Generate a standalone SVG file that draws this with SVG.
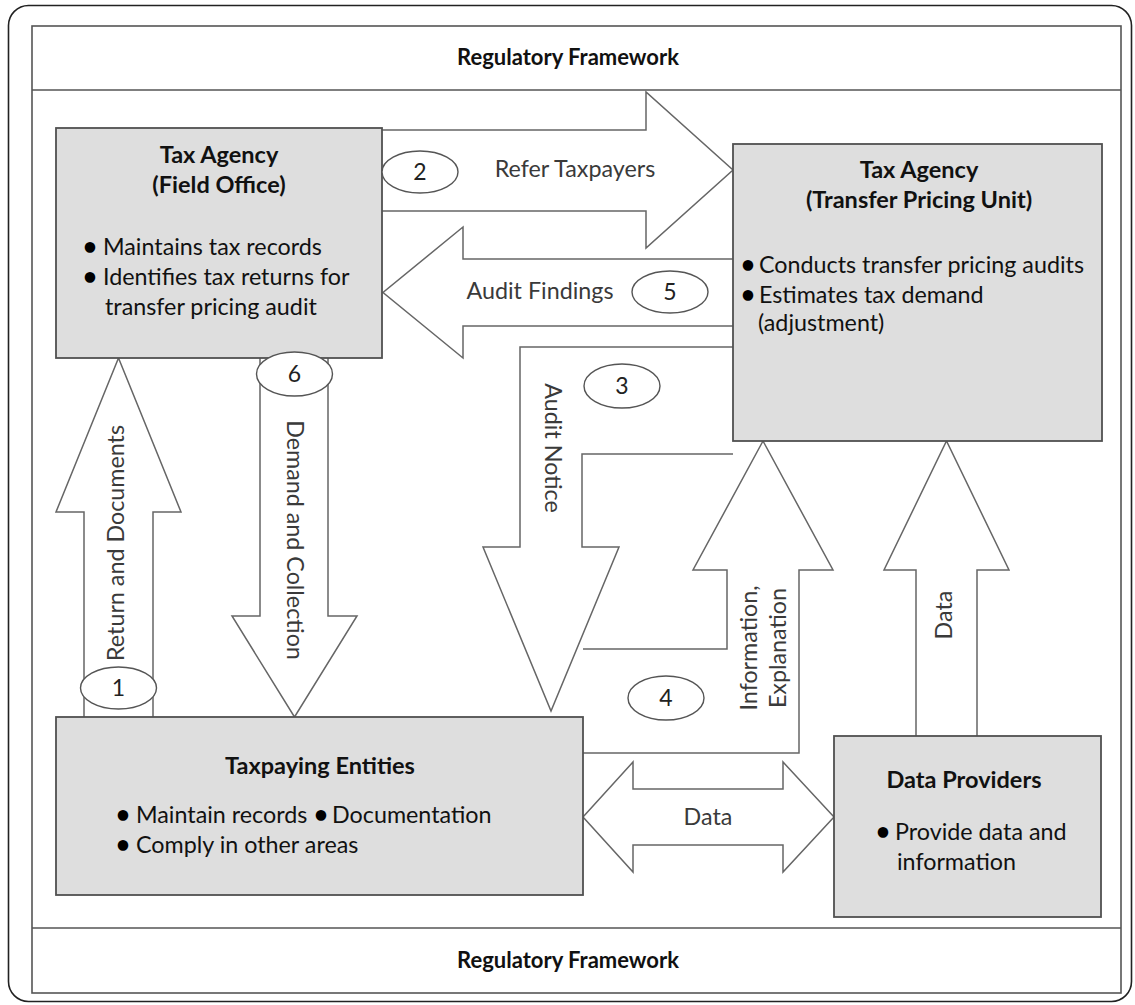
<svg xmlns="http://www.w3.org/2000/svg" width="1135" height="1005" viewBox="0 0 1135 1005">
  <style>
    .frame { fill: none; stroke: #222; stroke-width: 1.6; }
    .band { fill: #fff; stroke: #555; stroke-width: 1.6; }
    .box { fill: #dedede; stroke: #505050; stroke-width: 1.8; }
    .arrow { fill: #fff; stroke: #666; stroke-width: 1.5; stroke-linejoin: miter; }
    .badge { fill: #fff; stroke: #555; stroke-width: 1.4; }
    text { font-family: Lato, "Open Sans", "Liberation Sans", sans-serif; }
    .frame-title { font-size: 22px; font-weight: bold; fill: #111; text-anchor: middle; }
    .title { font-size: 23.5px; font-weight: bold; fill: #111; text-anchor: middle; }
    .body { font-size: 23.3px; fill: #111; }
    .dot { font-size: 24px; font-weight: bold; fill: #000; text-anchor: middle; }
    .flow { font-size: 23.3px; fill: #3a3a3a; text-anchor: middle; }
    .num { font-size: 23px; fill: #222; text-anchor: middle; }
  </style>

  <!-- outer frame -->
  <rect class="frame" x="8.5" y="5.5" width="1123" height="996" rx="20"/>

  <!-- regulatory framework enclosure -->
  <g id="regulatory-framework">
    <rect class="band" x="32" y="26" width="1089" height="967"/>
    <line class="band" x1="32" y1="90" x2="1121" y2="90"/>
    <line class="band" x1="32" y1="928" x2="1121" y2="928"/>
    <text class="frame-title" x="568" y="65">Regulatory Framework</text>
    <text class="frame-title" x="568" y="968">Regulatory Framework</text>
  </g>

  <!-- block arrows between the parties -->
  <g id="connectors">
    <!-- 1: return and documents -->
    <path class="arrow" d="M84,717 L84,512 L56,512 L118.5,358 L181,512 L153,512 L153,717"/>
    <text class="flow" transform="translate(124,543) rotate(-90)">Return and Documents</text>
    <!-- 6: demand and collection -->
    <path class="arrow" d="M260,358 L260,616 L232,616 L294.5,717 L357,616 L328,616 L328,358"/>
    <text class="flow" transform="translate(287,540) rotate(90)">Demand and Collection</text>
    <!-- 2: refer taxpayers -->
    <path class="arrow" d="M382,130 L646,130 L646,92 L733,170 L646,248 L646,211 L382,211"/>
    <text class="flow" x="575" y="177">Refer Taxpayers</text>
    <!-- 5: audit findings -->
    <path class="arrow" d="M733,259 L463,259 L463,227 L383,292.5 L463,358 L463,326 L733,326"/>
    <text class="flow" x="540" y="299">Audit Findings</text>
    <!-- 3: audit notice -->
    <path class="arrow" d="M733,347 L520,347 L520,547 L483,547 L551,711 L619,547 L582,547 L582,454 L733,454"/>
    <text class="flow" transform="translate(545,448) rotate(90)">Audit Notice</text>
    <!-- 4: information, explanation -->
    <path class="arrow" d="M583,649 L727,649 L727,570 L693,570 L763,441 L833,570 L799,570 L799,753 L583,753"/>
    <text class="flow" transform="translate(757,648) rotate(-90)">Information,</text>
    <text class="flow" transform="translate(786,648) rotate(-90)">Explanation</text>
    <!-- data to the transfer pricing unit -->
    <path class="arrow" d="M916,736 L916,570 L884,570 L946.5,441 L1009,570 L977,570 L977,736"/>
    <text class="flow" transform="translate(952,615) rotate(-90)">Data</text>
    <!-- data exchange -->
    <path class="arrow" d="M583,817 L633,762 L633,789 L783,789 L783,762 L834,817 L783,872 L783,845 L633,845 L633,872 Z"/>
    <text class="flow" x="708" y="825">Data</text>
  </g>

  <g id="field-office">
    <rect class="box" x="56" y="128" width="326" height="230"/>
    <text class="title" x="219" y="163">Tax Agency</text>
    <text class="title" x="219" y="193">(Field Office)</text>
    <text class="body" y="255"><tspan class="dot" x="90">•</tspan><tspan x="103">Maintains tax records</tspan></text>
    <text class="body" y="285"><tspan class="dot" x="90">•</tspan><tspan x="103">Identifies tax returns for</tspan></text>
    <text class="body" x="105" y="315">transfer pricing audit</text>
  </g>

  <g id="transfer-pricing-unit">
    <rect class="box" x="733" y="144" width="369" height="297"/>
    <text class="title" x="919" y="178">Tax Agency</text>
    <text class="title" x="919" y="208">(Transfer Pricing Unit)</text>
    <text class="body" y="273"><tspan class="dot" x="748">•</tspan><tspan x="759">Conducts transfer pricing audits</tspan></text>
    <text class="body" y="303"><tspan class="dot" x="748">•</tspan><tspan x="759">Estimates tax demand</tspan></text>
    <text class="body" x="758" y="331">(adjustment)</text>
  </g>

  <g id="taxpaying-entities">
    <rect class="box" x="56" y="717" width="527" height="178"/>
    <text class="title" x="320" y="774">Taxpaying Entities</text>
    <text class="body" y="823"><tspan class="dot" x="123">•</tspan><tspan x="136">Maintain records</tspan><tspan class="dot" x="321">•</tspan><tspan x="332">Documentation</tspan></text>
    <text class="body" y="853"><tspan class="dot" x="123">•</tspan><tspan x="136">Comply in other areas</tspan></text>
  </g>

  <g id="data-providers">
    <rect class="box" x="834" y="736" width="267" height="181"/>
    <text class="title" x="964" y="788">Data Providers</text>
    <text class="body" y="840"><tspan class="dot" x="883">•</tspan><tspan x="895">Provide data and</tspan></text>
    <text class="body" x="897" y="870">information</text>
  </g>

  <!-- step numbers -->
  <g id="step-badges">
    <ellipse class="badge" cx="118.5" cy="688" rx="38" ry="21"/>
    <text class="num" x="118.5" y="696">1</text>
    <ellipse class="badge" cx="420" cy="172" rx="38" ry="21"/>
    <text class="num" x="420" y="180">2</text>
    <ellipse class="badge" cx="622" cy="386" rx="38" ry="22"/>
    <text class="num" x="622" y="394">3</text>
    <ellipse class="badge" cx="666" cy="698" rx="38" ry="22"/>
    <text class="num" x="666" y="706">4</text>
    <ellipse class="badge" cx="670" cy="292" rx="38" ry="21"/>
    <text class="num" x="670" y="300">5</text>
    <ellipse class="badge" cx="294.5" cy="374" rx="38" ry="22"/>
    <text class="num" x="294.5" y="382">6</text>
  </g>
</svg>
